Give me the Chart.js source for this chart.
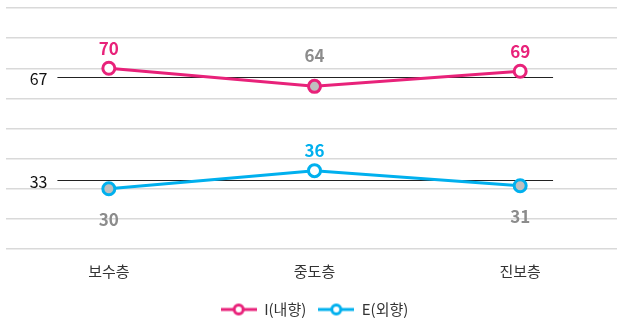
<!DOCTYPE html>
<html><head><meta charset="utf-8">
<script src="https://cdn.jsdelivr.net/npm/chart.js@4"></script>
<style>html,body{margin:0;padding:0;background:#fff;overflow:hidden}#wrap{width:617px;height:320px;overflow:hidden}</style>
</head><body><div id="wrap"><canvas id="c" width="623" height="320"></canvas></div>
<script>
const categories = ['보수층', '중도층', '진보층'];
const seriesNames = ['I(내향)', 'E(외향)'];
const introvert = [70, 64, 69];
const extrovert = [30, 36, 31];
const referenceValues = [67, 33];

const FONT = '"Noto Sans CJK KR", "Noto Sans", sans-serif';
const PINK = '#E8227A', BLUE = '#00B0EE', GRAY_FILL = '#BFBFBF', GRAY_TXT = '#8C8C8C';
const colors = [PINK, BLUE];
const seriesData = [introvert, extrovert];

function legendIcon(color) {
  const c = document.createElement('canvas');
  c.width = 36; c.height = 14;
  const g = c.getContext('2d');
  g.strokeStyle = color; g.lineWidth = 3;
  g.beginPath(); g.moveTo(0, 7); g.lineTo(36, 7); g.stroke();
  g.fillStyle = '#fff';
  g.beginPath(); g.arc(18, 7, 4.5, 0, Math.PI * 2); g.fill(); g.stroke();
  return c;
}

const datasets = seriesData.map((vals, d) => ({
  label: seriesNames[d],
  data: vals,
  borderColor: colors[d],
  borderWidth: 3,
  pointRadius: 6,
  pointHoverRadius: 6,
  pointBorderWidth: 3,
  pointBorderColor: colors[d],
  pointBackgroundColor: vals.map(v => v > referenceValues[d] ? '#fff' : GRAY_FILL),
  pointStyle: 'circle',
  tension: 0,
  clip: false
}));

const overlay = {
  id: 'overlay',
  beforeDatasetsDraw(chart) {
    const { ctx, scales: { x, y } } = chart;
    const x0 = x.getPixelForValue(-0.25), x1 = x.getPixelForValue(2.16);
    ctx.save();
    referenceValues.forEach(v => {
      const py = Math.round(y.getPixelForValue(v)) + 0.5;
      ctx.strokeStyle = '#222'; ctx.lineWidth = 1;
      ctx.beginPath(); ctx.moveTo(x0, py); ctx.lineTo(x1, py); ctx.stroke();
      ctx.fillStyle = '#111';
      ctx.font = '16px ' + FONT;
      ctx.textAlign = 'right'; ctx.textBaseline = 'middle';
      ctx.fillText(String(v), x0 - 10, py + 1);
    });
    ctx.restore();
  },
  afterDatasetsDraw(chart) {
    const { ctx } = chart;
    ctx.save();
    ctx.font = 'bold 17px ' + FONT;
    ctx.textAlign = 'center'; ctx.textBaseline = 'middle';
    seriesData.forEach((vals, d) => {
      const meta = chart.getDatasetMeta(d);
      vals.forEach((v, i) => {
        const pt = meta.data[i];
        const high = v > referenceValues[d];
        const above = d === 0 || high;
        const off = high ? 20 : 31;
        ctx.fillStyle = high ? colors[d] : GRAY_TXT;
        ctx.fillText(String(v), pt.x, pt.y + (above ? -off : off));
      });
    });
    ctx.restore();
  }
};

new Chart(document.getElementById('c'), {
  type: 'line',
  data: { labels: categories, datasets },
  options: {
    responsive: false,
    animation: false,
    events: [],
    layout: { autoPadding: false, padding: { top: 8, left: 6, right: 0, bottom: -7 } },
    scales: {
      x: {
        offset: true,
        afterFit(s) { s.height += 5; },
        grid: { display: false },
        border: { display: false },
        ticks: { color: '#333', font: { family: FONT, size: 15 }, padding: 5 }
      },
      y: {
        min: 10, max: 90,
        afterFit(s) { s.width = 0; },
        ticks: { display: false, stepSize: 10, padding: 0 },
        border: { display: false },
        grid: { color: '#D9D9D9', lineWidth: 1.5, drawTicks: false }
      }
    },
    plugins: {
      tooltip: { enabled: false },
      legend: {
        position: 'bottom',
        labels: {
          usePointStyle: true,
          pointStyleWidth: 36,
          boxHeight: 14,
          padding: 12,
          color: '#333',
          font: { family: FONT, size: 15 },
          generateLabels(chart) {
            return chart.data.datasets.map((ds, i) => ({
              text: ds.label,
              pointStyle: legendIcon(colors[i]),
              fillStyle: colors[i], strokeStyle: colors[i],
              lineWidth: 0, hidden: false, datasetIndex: i, fontColor: '#333'
            }));
          }
        }
      }
    }
  },
  plugins: [overlay]
});
</script></body></html>
